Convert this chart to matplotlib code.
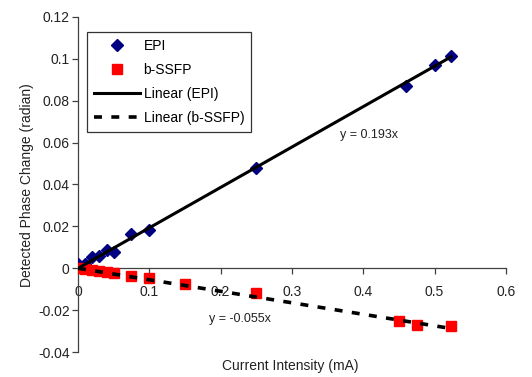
import numpy as np
import matplotlib.pyplot as plt

plt.rcParams['font.family'] = ['Liberation Sans', 'DejaVu Sans']

# measured points
epi_x = [0, 0.01, 0.02, 0.03, 0.04, 0.05, 0.075, 0.1, 0.25, 0.46, 0.5, 0.523]
epi_y = [0.002, 0.002, 0.0054, 0.006, 0.0085, 0.0078, 0.0165, 0.0185, 0.0478, 0.087, 0.097, 0.1015]
ssfp_x = [0, 0.01, 0.02, 0.03, 0.04, 0.05, 0.075, 0.1, 0.15, 0.25, 0.45, 0.475, 0.523]
ssfp_y = [0, -0.0005, -0.001, -0.0013, -0.0018, -0.0025, -0.0038, -0.0045, -0.0073, -0.0116, -0.0252, -0.0272, -0.0277]

# fitted slopes (forced through origin)
epi_slope = 0.193
ssfp_slope = -0.055

fig = plt.figure(figsize=(5.32, 3.77), dpi=100)
ax = fig.add_axes([0.1466, 0.0663, 0.8044, 0.8887])

xfit = np.array([0, max(epi_x)])
ax.plot(epi_x, epi_y, 'D', color='#000080', markersize=6.5, label='EPI', zorder=3)
ax.plot(ssfp_x, ssfp_y, 's', color='#ff0000', markersize=7, label='b-SSFP', zorder=3)
ax.plot(xfit, epi_slope * xfit, '-', color='black', lw=2.2, label='Linear (EPI)', zorder=4)
ax.plot(xfit, ssfp_slope * xfit, '--', color='black', lw=2.6, dashes=(2.2, 2.6),
        label='Linear (b-SSFP)', zorder=4)

ax.set_xlim(0, 0.6)
ax.set_ylim(-0.04, 0.12)
ax.set_xticks(np.arange(0, 0.61, 0.1))
ax.set_xticklabels(['0', '0.1', '0.2', '0.3', '0.4', '0.5', '0.6'])
ax.set_yticks(np.arange(-0.04, 0.121, 0.02))
ax.set_yticklabels(['-0.04', '-0.02', '0', '0.02', '0.04', '0.06', '0.08', '0.1', '0.12'])

ax.spines['top'].set_visible(False)
ax.spines['right'].set_visible(False)
ax.spines['bottom'].set_position(('data', 0))
for s in ('left', 'bottom'):
    ax.spines[s].set_color('#404040')
    ax.spines[s].set_linewidth(0.9)
ax.tick_params(axis='both', direction='out', length=4, width=0.9, color='#404040',
               labelsize=10, labelcolor='#222222')
ax.tick_params(axis='x', pad=8)
ax.tick_params(axis='y', pad=2)

ax.text(0.367, 0.0635, 'y = 0.193x', fontsize=9, va='center', color='#222222')
ax.text(0.184, -0.024, 'y = -0.055x', fontsize=9, va='center', color='#222222')

fig.text(0.545, 0.03, 'Current Intensity (mA)', ha='center', va='center', fontsize=10, color='#222222')
fig.text(0.05, 0.51, 'Detected Phase Change (radian)', ha='center', va='center',
         rotation=90, fontsize=10, color='#222222')

leg = ax.legend(loc='upper left', bbox_to_anchor=(0.022, 0.955), fontsize=10, frameon=True,
                fancybox=False, edgecolor='black', handlelength=3.3, handletextpad=0.25,
                borderpad=0.5, labelspacing=0.72, borderaxespad=0)
leg.get_frame().set_linewidth(0.9)

fig.savefig('out.png', dpi=100)
